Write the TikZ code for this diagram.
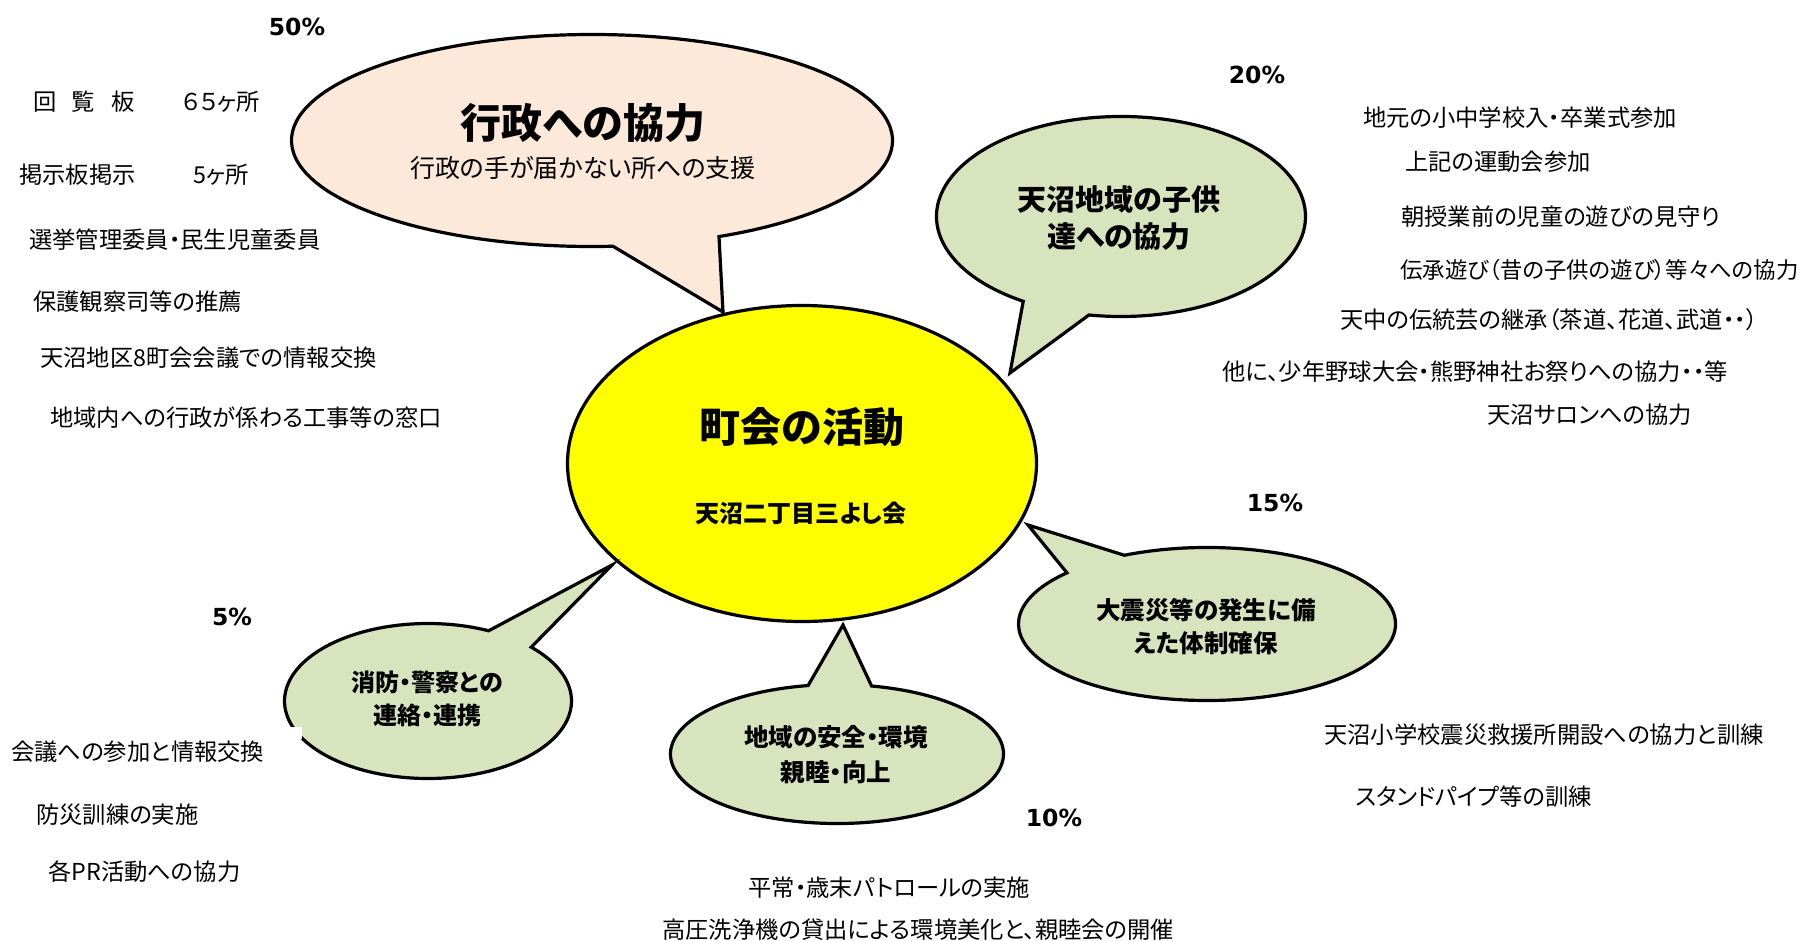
\documentclass[tikz,border=0pt]{standalone}
\usepackage{fontspec}
\newfontfamily\jp[RawFeature=+palt]{Noto Sans CJK JP}
\newfontfamily\pctfont{DejaVu Sans}
\definecolor{peach}{HTML}{FDE9D9}
\definecolor{sage}{HTML}{D7E4BD}
\definecolor{sun}{HTML}{FFFF00}
\tikzset{
  outline/.style={draw=black, line width=3.2pt, line join=miter},
  body/.style={anchor=west, inner sep=0pt, font=\jp\fontsize{23.3}{28}\selectfont},
  pct/.style={inner sep=0pt, font=\pctfont\bfseries\fontsize{23.5}{28}\selectfont},
  head/.style={inner sep=0pt, align=center, font=\jp\bfseries\fontsize{24.5}{33}\selectfont},
  bigtitle/.style={inner sep=0pt, font=\jp\bfseries\fontsize{41}{48}\selectfont}
}
% cx cy rx ry t-start t-end tipx tipy fill
\newcommand\bubblepath[9]{%
  \filldraw[outline, fill=#9] ({#1+#3*cos(#5)},{#2+#4*sin(#5)})
    arc[start angle={-(#5)}, end angle={-(#6)}, x radius=#3pt, y radius=#4pt]
    -- (#7,#8) -- cycle;}
\begin{document}
\begin{tikzpicture}[x=1pt, y=-1pt]
\useasboundingbox[fill=white] (0,0) rectangle (1802,941);

% central ellipse
\filldraw[outline, fill=sun] (802,463.5) ellipse [x radius=234.5pt, y radius=158pt];
\node[bigtitle] (center) at (802,427) {町会の活動};
\node[inner sep=0pt, font=\jp\bfseries\fontsize{24}{28}\selectfont] (club) at (801,513) {天沼二丁目三よし会};

% speech bubbles
\bubblepath{592}{140.5}{300.5}{106}{86}{425}{723}{312}{peach}
\bubblepath{1121}{216.5}{184.5}{100}{122}{460}{1010}{373}{sage}
\bubblepath{1207}{624}{188.5}{76.5}{244}{582}{1028}{525}{sage}
\bubblepath{837}{754}{166.5}{69.5}{282}{620}{843}{625}{sage}
\bubblepath{428}{701}{143.5}{77.5}{316}{655}{612}{565}{sage}
\fill[white] (284,726.5) rectangle (302,739);

% bubble texts
\node[bigtitle] (gyosei) at (583,123) {行政への協力};
\node[inner sep=0pt, font=\jp\fontsize{25}{30}\selectfont] (gyoseisub) at (583,168) {行政の手が届かない所への支援};
\node[head, font=\jp\bfseries\fontsize{29}{37}\selectfont] (kodomo) at (1119,218.5) {天沼地域の子供\\達への協力};
\node[head] (shinsai) at (1206,626.5) {大震災等の発生に備\\えた体制確保};
\node[head, font=\jp\bfseries\fontsize{24.5}{35}\selectfont] (anzen) at (836,754.5) {地域の安全・環境\\親睦・向上};
\node[head, font=\jp\bfseries\fontsize{24}{33}\selectfont] (shobo) at (427,698.5) {消防・警察との\\連絡・連携};

% percentages
\node[pct] (p50) at (297,27) {50\%};
\node[pct] (p20) at (1257,75) {20\%};
\node[pct] (p15) at (1275,503) {15\%};
\node[pct] (p10) at (1054,818) {10\%};
\node[pct] (p5) at (232,617) {5\%};

% left column
\node[body] (l1) at (33,102) {回\hspace{15pt}覧\hspace{16.5pt}板};
\node[body] (l1b) at (182,102) {６５ヶ所};
\node[body] (l2) at (19,175) {掲示板掲示};
\node[body] (l2b) at (193,175) {5ヶ所};
\node[body] (l3) at (29,240) {選挙管理委員・民生児童委員};
\node[body] (l4) at (33,302) {保護観察司等の推薦};
\node[body] (l5) at (40,358) {天沼地区8町会会議での情報交換};
\node[body] (l6) at (50,418) {地域内への行政が係わる工事等の窓口};

% right column
\node[body] (r1) at (1363,118) {地元の小中学校入・卒業式参加};
\node[body] (r2) at (1405,162) {上記の運動会参加};
\node[body] (r3) at (1401,217) {朝授業前の児童の遊びの見守り};
\node[body, font=\jp\fontsize{22.4}{27}\selectfont] (r4) at (1400,270) {伝承遊び（昔の子供の遊び）等々への協力};
\node[body] (r5) at (1340,320) {天中の伝統芸の継承（茶道、花道、武道・・）};
\node[body] (r6) at (1222,372) {他に、少年野球大会・熊野神社お祭りへの協力・・等};
\node[body] (r7) at (1487,415) {天沼サロンへの協力};
\node[body] (r8) at (1324,735) {天沼小学校震災救援所開設への協力と訓練};
\node[body] (r9) at (1355,797) {スタンドパイプ等の訓練};

% bottom
\node[body] (b1) at (748,888) {平常・歳末パトロールの実施};
\node[body] (b2) at (662,930) {高圧洗浄機の貸出による環境美化と、親睦会の開催};

% bottom left
\node[body] (f1) at (11,752) {会議への参加と情報交換};
\node[body] (f2) at (36,815) {防災訓練の実施};
\node[body] (f3) at (48,872) {各PR活動への協力};
\end{tikzpicture}
\end{document}
